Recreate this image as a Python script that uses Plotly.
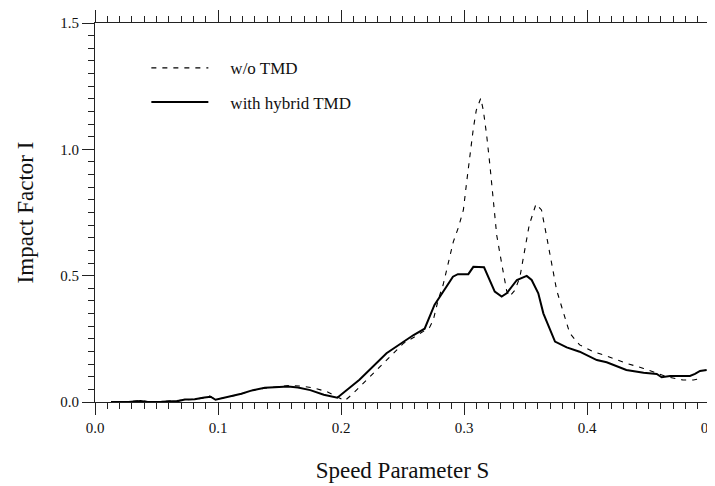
import plotly.graph_objects as go

# w/o TMD (dashed)
s_wo = [0.013, 0.027, 0.037, 0.045, 0.055, 0.063, 0.072, 0.081, 0.089, 0.093,
        0.098, 0.104, 0.112, 0.120, 0.128, 0.138, 0.148, 0.158, 0.168, 0.178,
        0.188, 0.195, 0.203, 0.209, 0.218, 0.226, 0.234, 0.2507, 0.260, 0.268,
        0.272, 0.275, 0.279, 0.283, 0.287, 0.2913, 0.2954, 0.2995, 0.3022, 0.3049,
        0.3076, 0.310, 0.3136, 0.3157, 0.3184, 0.321, 0.3238, 0.3266, 0.3306, 0.3347,
        0.337, 0.3415, 0.3455, 0.3496, 0.353, 0.3585, 0.363, 0.367, 0.371, 0.3753,
        0.3794, 0.386, 0.394, 0.405, 0.416, 0.432, 0.446, 0.4567, 0.465, 0.478,
        0.4865, 0.493]
i_wo = [0.000, 0.000, 0.006, 0.000, 0.002, 0.004, 0.008, 0.011, 0.017, 0.024,
        0.010, 0.015, 0.024, 0.034, 0.046, 0.055, 0.059, 0.065, 0.063, 0.055,
        0.042, 0.025, 0.005, 0.030, 0.074, 0.114, 0.153, 0.232, 0.258, 0.285,
        0.295, 0.324, 0.404, 0.463, 0.542, 0.634, 0.690, 0.760, 0.872, 0.990,
        1.083, 1.155, 1.202, 1.155, 1.057, 0.940, 0.800, 0.660, 0.549, 0.440,
        0.417, 0.443, 0.496, 0.600, 0.700, 0.783, 0.760, 0.660, 0.560, 0.443,
        0.377, 0.272, 0.226, 0.199, 0.182, 0.153, 0.133, 0.113, 0.100, 0.087,
        0.087, 0.094]

# with hybrid TMD (solid)
s_hy = [0.013, 0.027, 0.037, 0.043, 0.054, 0.062, 0.068, 0.073, 0.081, 0.089,
        0.094, 0.098, 0.103, 0.111, 0.119, 0.127, 0.138, 0.146, 0.157, 0.165,
        0.175, 0.186, 0.197, 0.215, 0.237, 0.259, 0.268, 0.276, 0.291, 0.295,
        0.3035, 0.3076, 0.3163, 0.325, 0.3306, 0.3347, 0.343, 0.351, 0.355, 0.3604,
        0.3645, 0.374, 0.3835, 0.394, 0.408, 0.416, 0.432, 0.446, 0.4567, 0.4607,
        0.4675, 0.4837, 0.4878, 0.4919, 0.4973]
i_hy = [0.000, 0.000, 0.004, 0.000, 0.001, 0.004, 0.004, 0.010, 0.011, 0.018,
        0.021, 0.009, 0.014, 0.023, 0.033, 0.045, 0.056, 0.058, 0.061, 0.057,
        0.047, 0.029, 0.017, 0.088, 0.193, 0.265, 0.290, 0.384, 0.496, 0.506,
        0.506, 0.535, 0.533, 0.437, 0.417, 0.430, 0.483, 0.499, 0.483, 0.430,
        0.351, 0.239, 0.216, 0.199, 0.166, 0.157, 0.127, 0.116, 0.111, 0.098,
        0.103, 0.103, 0.111, 0.123, 0.127]

x_ticks = [0.0, 0.1, 0.2, 0.3, 0.4, 0.5]
x_labels = ["0.0", "0.1", "0.2", "0.3", "0.4", "0.5"]
y_ticks = [0.0, 0.5, 1.0, 1.5]
y_labels = ["0.0", "0.5", "1.0", "1.5"]

FONT = "Liberation Serif"
NB = "\u00a0" * 4

fig = go.Figure()
fig.add_trace(go.Scatter(x=s_wo, y=i_wo, mode="lines", name=NB + "w/o TMD",
                         legendgroup="a",
                         line=dict(color="black", width=1.1, dash="5px,6px")))
fig.add_trace(go.Scatter(x=s_hy, y=i_hy, mode="lines", name=NB + "with hybrid TMD",
                         legendgroup="b",
                         line=dict(color="black", width=2)))

axis_common = dict(
    showline=True, linecolor="#222", linewidth=1.2, mirror="ticks",
    ticks="outside", ticklen=12, tickwidth=1, tickcolor="#222",
    showgrid=False, zeroline=False, automargin=False,
    ticklabeloverflow="allow",
    tickfont=dict(family=FONT, size=15, color="#111"),
)

fig.update_xaxes(
    range=[0, 0.5], tickvals=x_ticks, ticktext=x_labels,
    minor=dict(dtick=0.01, ticks="outside", ticklen=6, tickcolor="#222", showgrid=False),
    title=dict(text="Speed Parameter S", font=dict(family=FONT, size=23, color="#111"), standoff=26),
    **axis_common,
)
fig.update_yaxes(
    range=[0, 1.5], tickvals=y_ticks, ticktext=y_labels,
    minor=dict(dtick=0.05, ticks="outside", ticklen=6, tickcolor="#222", showgrid=False),
    title=dict(text="Impact Factor I", font=dict(family=FONT, size=23, color="#111"), standoff=20),
    **axis_common,
)

fig.update_layout(
    template="none",
    width=707, height=478,
    margin=dict(l=87, r=5, t=15, b=84),
    paper_bgcolor="white", plot_bgcolor="white",
    showlegend=True,
    legend=dict(x=0.0835, y=0.928, xanchor="left", yanchor="top",
                bgcolor="rgba(0,0,0,0)", borderwidth=0,
                itemwidth=57, tracegroupgap=9,
                font=dict(family=FONT, size=17, color="#111")),
)

fig.write_html("out.html")
